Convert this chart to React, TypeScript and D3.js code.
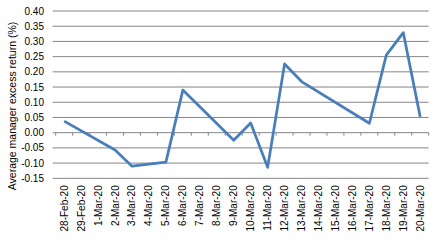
import React from "react";
import * as d3 from "d3";

const categories = [
  "28-Feb-20", "29-Feb-20", "1-Mar-20", "2-Mar-20", "3-Mar-20", "4-Mar-20", "5-Mar-20",
  "6-Mar-20", "7-Mar-20", "8-Mar-20", "9-Mar-20", "10-Mar-20", "11-Mar-20", "12-Mar-20",
  "13-Mar-20", "14-Mar-20", "15-Mar-20", "16-Mar-20", "17-Mar-20", "18-Mar-20", "19-Mar-20", "20-Mar-20",
];
const values: (number | null)[] = [
  0.038, null, null, -0.057, -0.110, null, -0.097,
  0.140, null, null, -0.025, 0.032, -0.114, 0.226,
  0.168, null, null, null, 0.031, 0.255, 0.329, 0.052,
];
const yTicks = [-0.15, -0.1, -0.05, 0, 0.05, 0.1, 0.15, 0.2, 0.25, 0.3, 0.35, 0.4];

const W = 448, H = 243;
const left = 55.7, right = 428.7, top = 11, bottom = 178.3;
const font = "'Liberation Sans', Arial, sans-serif";

export default function App() {
  const x = d3.scaleBand<string>().domain(categories).range([left, right]).padding(0);
  const y = d3.scaleLinear().domain([-0.15, 0.4]).range([bottom, top]);
  const pts = categories
    .map((c, i) => ({ c, v: values[i] }))
    .filter((d) => d.v !== null) as { c: string; v: number }[];
  const line = d3
    .line<{ c: string; v: number }>()
    .x((d) => (x(d.c) as number) + x.bandwidth() / 2)
    .y((d) => y(d.v));
  const y0 = y(0);
  const grid = "#868686";
  return (
    <svg width={W} height={H} style={{ position: "absolute", left: 0, top: 0, background: "#fff" }}>
      {yTicks.map((t) => (
        <g key={t}>
          <line x1={left - 3} x2={right} y1={y(t)} y2={y(t)} stroke={grid} strokeWidth={1} />
          <text x={44} y={y(t)} dy="0.35em" textAnchor="end" fontFamily={font} fontSize={10} fill="#000">
            {t.toFixed(2)}
          </text>
        </g>
      ))}
      {categories.concat(["end"]).map((c, i) => {
        const xx = left + i * x.bandwidth();
        return <line key={"t" + i} x1={xx} x2={xx} y1={y0} y2={y0 + 3} stroke={grid} strokeWidth={1} />;
      })}
      {categories.map((c) => {
        const cx = (x(c) as number) + x.bandwidth() / 2;
        return (
          <text
            key={c}
            transform={`translate(${cx},${bottom + 7}) rotate(-90)`}
            dy="0.35em"
            textAnchor="end"
            fontFamily={font}
            fontSize={10}
            fill="#000"
          >
            {c}
          </text>
        );
      })}
      <path d={line(pts) || ""} fill="none" stroke="#4a7ebb" strokeWidth={2.75} strokeLinejoin="round" />
      <text
        transform={`translate(12,106) rotate(-90)`}
        dy="0.35em"
        textAnchor="middle"
        fontFamily={font}
        fontSize={10.5}
        fill="#000"
      >
        Average manager excess return (%)
      </text>
    </svg>
  );
}
